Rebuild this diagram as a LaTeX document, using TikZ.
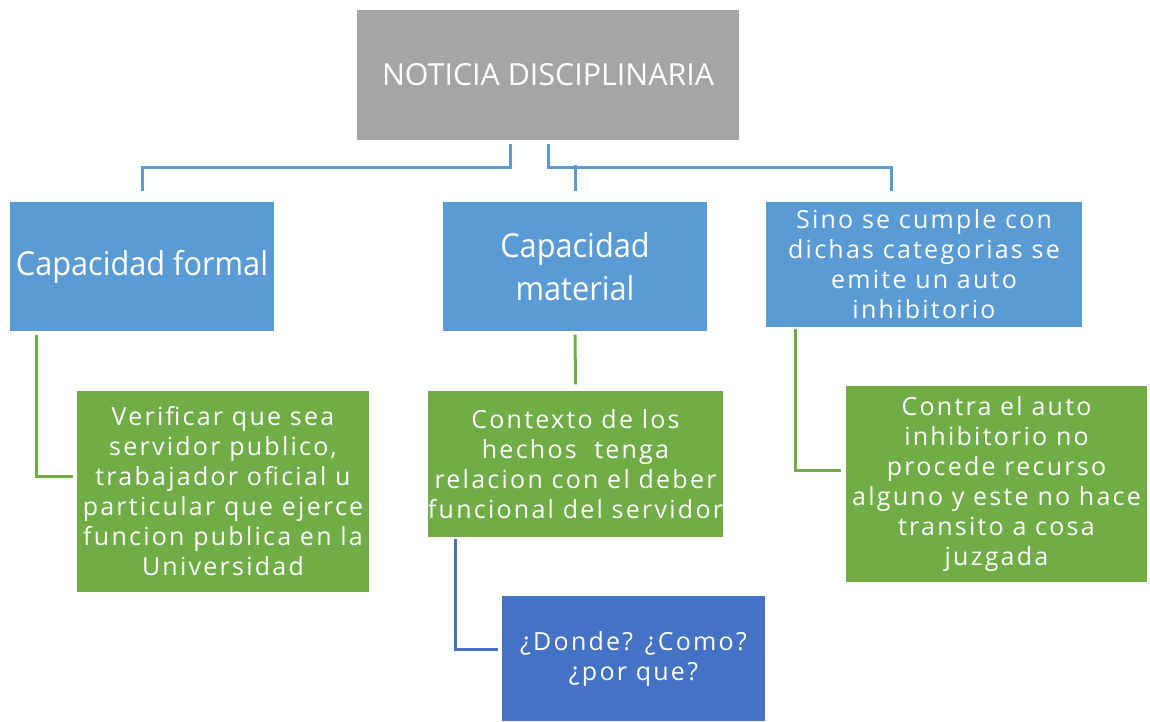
\documentclass[tikz,border=0pt]{standalone}
\usepackage{fontspec}
\setmainfont{Open Sans}
\newfontfamily\letragrande{Open Sans}[FakeStretch=0.93]
\newfontfamily\letracuerpo{Open Sans}[LetterSpace=9]
\usepackage{xcolor}
\usetikzlibrary{positioning}
\definecolor{grisbox}{HTML}{A5A5A5}
\definecolor{azulbox}{HTML}{5B9BD5}
\definecolor{verdebox}{HTML}{70AD47}
\definecolor{azuloscuro}{HTML}{4472C4}

\begin{document}
\begin{tikzpicture}[x=1pt,y=-1pt,
  caja/.style={inner sep=0pt,align=center,text=white,font=\letracuerpo\fontsize{25}{30}\selectfont},
  gris/.style={caja,fill=grisbox,font=\fontsize{30.4}{36}\selectfont},
  azul/.style={caja,fill=azulbox},
  grande/.style={azul,font=\letragrande\fontsize{33}{43}\selectfont},
  verde/.style={caja,fill=verdebox},
  oscuro/.style={caja,fill=azuloscuro},
  linea/.style={line width=3pt,line cap=rect}]
\useasboundingbox (0,0) rectangle (1150,721);
  \node[gris,minimum width=382pt,minimum height=130pt]   (noticia)   at (548,75)      {NOTICIA DISCIPLINARIA};
  \node[grande,minimum width=264pt,minimum height=129pt] (formal)    at (142,266.5)   {Capacidad formal};
  \node[grande,minimum width=264pt,minimum height=129pt] (material)  at (575,266.5)   {Capacidad\\material};
  \node[azul,minimum width=316pt,minimum height=125pt]   (sino)      at (924,264.5)   {Sino se cumple con\\dichas categorias se\\emite un auto\\inhibitorio};
  \node[verde,minimum width=292pt,minimum height=201pt]  (verificar) at (223,491.5)   {Verificar que sea\\servidor publico,\\trabajador oficial u\\particular que ejerce\\funcion publica en la\\Universidad};
  \node[verde,minimum width=295pt,minimum height=146pt]  (contexto)  at (575.5,464)   {Contexto de los\\hechos\ \ tenga\\relacion con el deber\\funcional del servidor};
  \node[verde,minimum width=301pt,minimum height=196pt]  (contra)    at (996.5,484)   {Contra el auto\\inhibitorio no\\procede recurso\\alguno y este no hace\\transito a cosa\\juzgada};
  \node[oscuro,minimum width=263pt,minimum height=125pt] (donde)     at (633.5,658.5) {¿Donde? ¿Como?\\¿por que?};

  \draw[linea,azulbox]
        ([xshift=-38pt,yshift=-5pt]noticia.south) -- ++(0,22) -| ([yshift=12pt]formal.north);
  \draw[linea,azulbox]
        ([yshift=-5pt]noticia.south) -- ++(0,22) -| ([xshift=-33pt,yshift=12pt]sino.north);
  \draw[linea,azulbox]
        ([yshift=35pt]material.north) -- ([yshift=12pt]material.north);

  \draw[linea,verdebox]
        ([xshift=27pt,yshift=-5pt]formal.south west) |- ([xshift=-5pt,yshift=15pt]verificar.west);
  \draw[linea,verdebox]
        ([yshift=-5pt]material.south) -- ([yshift=8pt]contexto.north);
  \draw[linea,verdebox]
        ([xshift=30pt,yshift=-3pt]sino.south west) |- ([xshift=-6pt,yshift=14pt]contra.west);
  \draw[linea,azuloscuro]
        ([xshift=28pt,yshift=-3pt]contexto.south west) |- ([xshift=-5pt,yshift=9.5pt]donde.west);
\end{tikzpicture}
\end{document}
